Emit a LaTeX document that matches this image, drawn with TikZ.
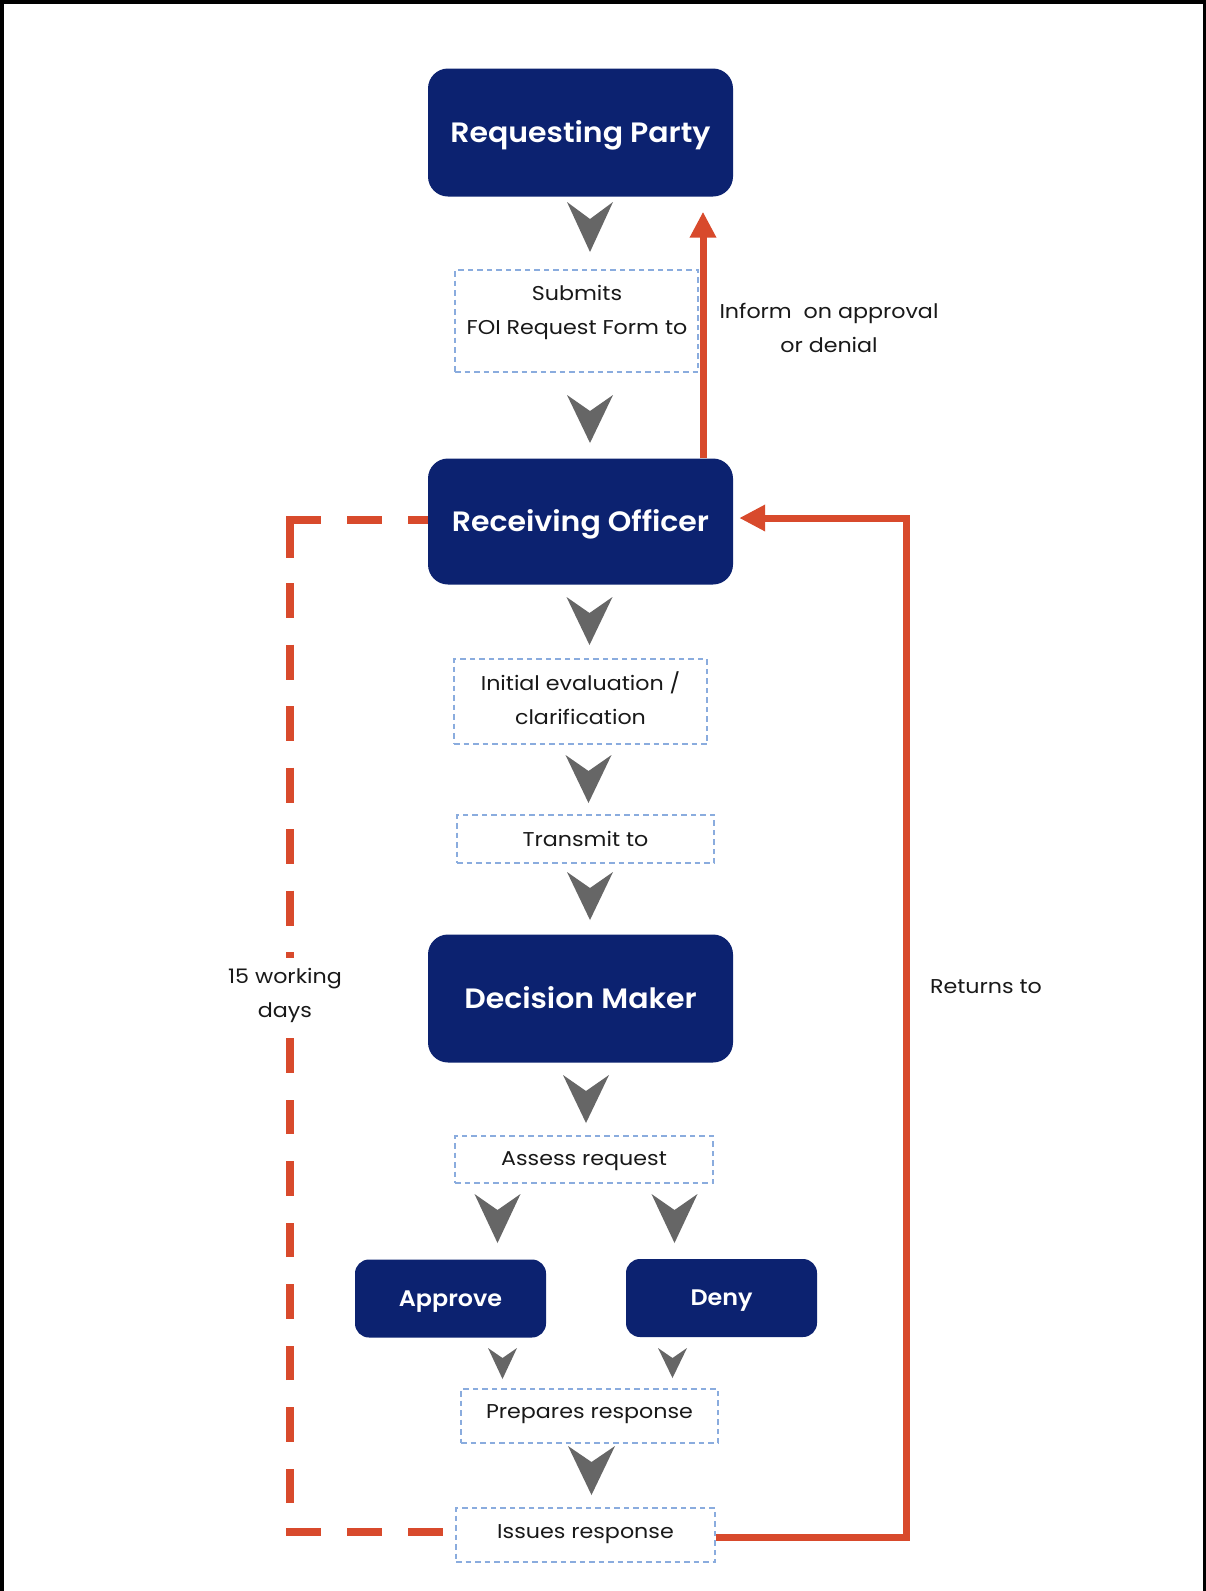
\documentclass[tikz,border=0pt]{standalone}
\usepackage{fontspec}
\setmainfont{Poppins}[BoldFont={* SemiBold}]
\newfontfamily\boxfont{Poppins}[BoldFont={* SemiBold}, FakeStretch=1.07]
\newfontfamily\subfont{Poppins}[BoldFont={* SemiBold}, FakeStretch=1.06]
\newfontfamily\lblfont{Poppins}[FakeStretch=1.11]
\usetikzlibrary{arrows.meta}
\definecolor{navy}{RGB}{12,34,112}
\definecolor{ored}{RGB}{216,74,44}
\definecolor{chevgrey}{RGB}{102,102,102}
\definecolor{dashblue}{RGB}{138,172,222}
\definecolor{txtcol}{RGB}{25,25,25}
\newcommand\chevr[5]{% x, top, width, height, notch
  \fill[chevgrey] (#1-#3/2,#2) -- (#1,#2+#5) -- (#1+#3/2,#2)
    .. controls (#1+#3*0.23,#2+#4*0.5) .. (#1,#2+#4)
    .. controls (#1-#3*0.23,#2+#4*0.5) .. (#1-#3/2,#2) -- cycle;}
\begin{document}
\begin{tikzpicture}[x=1pt,y=-1pt,
  mainbox/.style={fill=navy, rounded corners=20pt, text=white, inner sep=0pt,
    font=\boxfont\bfseries\fontsize{28}{32}\selectfont, text height=19.6pt, text depth=0pt,
    minimum width=305pt, minimum height=128pt},
  subbox/.style={fill=navy, rounded corners=14pt, text=white, inner sep=0pt,
    font=\subfont\bfseries\fontsize{22.5}{26}\selectfont, text height=15.7pt, text depth=0pt,
    minimum width=191pt, minimum height=78pt},
  dbox/.style={draw=dashblue, dash pattern=on 5.5pt off 4pt, line width=1.4pt, inner sep=0pt},
  lbl/.style={text=txtcol, font=\lblfont\fontsize{20}{34}\selectfont, align=center, inner sep=0pt},
  redl/.style={draw=ored, line width=7pt},
  redd/.style={draw=ored, line width=8.5pt},
  tipr/.style={-{Triangle[length=26pt,width=25pt]}}
]
\useasboundingbox (0,0) rectangle (1206,1591);
\fill[white] (0,0) rectangle (1206,1591);
% frame
\draw[line width=4pt] (2,0) -- (2,1591);
\draw[line width=4pt] (0,2) -- (1206,2);
\draw[line width=3pt] (1204.5,0) -- (1204.5,1591);

% main boxes
\node[mainbox] (rp) at (580.5,132.5) {Requesting Party};
\node[mainbox, minimum height=126pt] (ro) at (580.5,521.5) {Receiving Officer};
\node[mainbox] (dm) at (580.5,998.5) {Decision Maker};
\node[subbox] (ap) at (450.5,1298.5) {Approve};
\node[subbox] (dn) at (721.5,1298) {Deny};

% dashed boxes and their texts
\node[dbox, minimum width=243pt, minimum height=102pt] (sub) at (576.5,321) {};
\node[lbl] (subt) at (577,312) {Submits\\FOI Request Form to};
\node[dbox, minimum width=253pt, minimum height=85pt] (ie) at (580.5,701.5) {};
\node[lbl] (iet) at (580.5,698) {Initial evaluation /\\clarification};
\node[dbox, minimum width=257pt, minimum height=48pt] (tr) at (585.5,839) {};
\node[lbl] (trt) at (585.5,838.5) {Transmit to};
\node[dbox, minimum width=258pt, minimum height=47pt] (as) at (584,1159.5) {};
\node[lbl] (ast) at (584,1161.5) {Assess request};
\node[dbox, minimum width=257pt, minimum height=54pt] (pr) at (589.5,1416) {};
\node[lbl] (prt) at (589.5,1414.5) {Prepares response};
\node[dbox, minimum width=259pt, minimum height=54pt] (is) at (585.5,1535) {};
\node[lbl] (ist) at (585.5,1534.5) {Issues response};

% chevrons
\chevr{590}{202}{46}{50}{17}
\chevr{590}{395}{46}{48}{16}
\chevr{589.5}{597}{46}{48}{16}
\chevr{588.5}{755}{46}{48}{16}
\chevr{590}{872}{46}{48}{16}
\chevr{586}{1075}{46}{48}{16}
\chevr{497.5}{1194}{46}{49}{16}
\chevr{674.5}{1194}{46}{49}{16}
\chevr{502.5}{1348}{29}{31}{10}
\chevr{672.5}{1348}{29}{30}{10}
\chevr{591.5}{1446}{47}{49}{16}

% red up arrow
\coordinate (up) at (703,0);
\draw[redl, tipr, shorten >=15pt] (ro.north -| up) -- (rp.south -| up);
\node[lbl] (inf) at (829,328) {Inform\ \ on approval\\or denial};

% red return loop
\coordinate (cBR) at (906,1537);
\coordinate (cTR) at (906,518);
\draw[redl, tipr, shorten >=6pt] (cBR -| is.east) -- (cBR) -- (cTR) -- (cTR -| ro.east);
\node[lbl] (ret) at (986,987) {Returns to};

% red dashed loop
\coordinate (cTL) at (286,520);
\coordinate (cV1) at (290,516);
\coordinate (cVm) at (290,958);
\coordinate (cV2) at (290,1503);
\coordinate (cBL) at (286,1532);
\draw[redd, dash pattern=on 35pt off 26pt] (cTL) -- (cTL -| ro.west);
\draw[redd, dash pattern=on 42pt off 25pt on 35pt off 26.5pt on 35pt off 26.5pt on 35pt off 26.5pt on 35pt off 26.5pt on 35pt off 26.5pt on 35pt off 26.5pt on 35pt off 100pt] (cV1) -- (cVm);
\draw[redd, dash pattern=on 34.5pt off 27pt] (cV2) -- (cVm);
\draw[redd, dash pattern=on 35pt off 26pt] (cBL) -- (cBL -| is.west);
\node[lbl, fill=white, inner ysep=5pt, inner xsep=2pt] (days) at (285,995.5) {15 working\\days};
\end{tikzpicture}
\end{document}
